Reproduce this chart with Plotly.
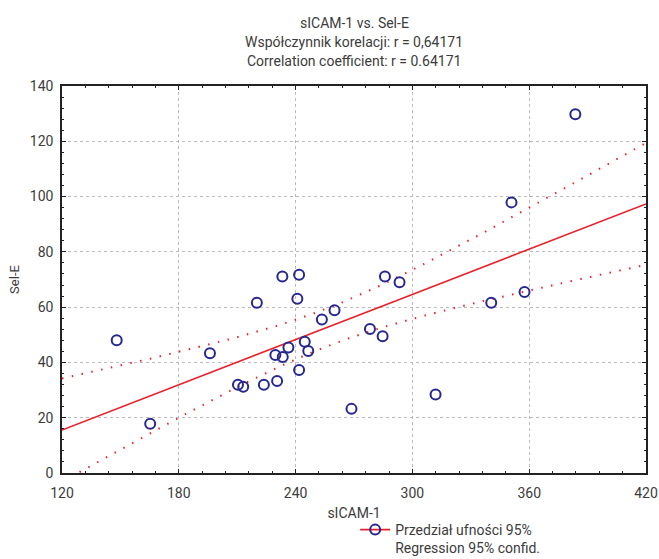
import numpy as np
import plotly.graph_objects as go

# Data
sicam = [148.1, 165.3, 196.0, 210.4, 213.1, 220.1, 223.7, 229.6, 230.5, 233.2,
         233.4, 236.3, 240.9, 241.8, 241.8, 244.7, 246.5, 253.5, 260.0, 268.7,
         285.9, 293.4, 278.2, 284.7, 311.9, 340.5, 357.6, 350.9, 383.7]
sele = [48.0, 17.8, 43.3, 31.9, 31.2, 61.6, 31.9, 42.7, 33.3, 71.1,
        42.0, 45.4, 63.0, 71.7, 37.3, 47.5, 44.1, 55.5, 58.9, 23.2,
        71.1, 69.0, 52.1, 49.5, 28.4, 61.6, 65.5, 97.9, 129.8]
x_ticks = [120, 180, 240, 300, 360, 420]
y_ticks = [0, 20, 40, 60, 80, 100, 120, 140]
title_lines = ["sICAM-1 vs. Sel-E",
               "Współczynnik korelacji: r = 0,64171",
               "Correlation coefficient: r = 0.64171"]
t_crit = 2.052  # t(0.975, df=27)

x = np.array(sicam)
y = np.array(sele)
n = len(x)
b, a = np.polyfit(x, y, 1)
resid = y - (a + b * x)
s = np.sqrt(np.sum(resid ** 2) / (n - 2))
xm = x.mean()
sxx = np.sum((x - xm) ** 2)
xg = np.linspace(x_ticks[0], x_ticks[-1], 301)
yg = a + b * xg
se = s * np.sqrt(1.0 / n + (xg - xm) ** 2 / sxx)
upper = yg + t_crit * se
lower = yg - t_crit * se

RED = "#e8202a"
BLUE = "#27278f"
FONT = "Roboto, Liberation Sans, sans-serif"
TXT = "#3c3c3c"

fig = go.Figure()
fig.add_trace(go.Scatter(x=xg, y=upper, mode="lines", showlegend=False,
                         line=dict(color=RED, width=2, dash="1.5px,8.5px")))
fig.add_trace(go.Scatter(x=xg, y=lower, mode="lines", showlegend=False,
                         line=dict(color=RED, width=2, dash="1.5px,8.5px")))
fig.add_trace(go.Scatter(x=xg, y=yg, mode="lines", showlegend=False,
                         line=dict(color=RED, width=1.6)))
fig.add_trace(go.Scatter(x=x, y=y, mode="markers", showlegend=False,
                         marker=dict(symbol="circle-open", size=10, color=BLUE,
                                     line=dict(width=2, color=BLUE))))
fig.add_trace(go.Scatter(x=[None], y=[None], mode="lines+markers",
                         name="Przedział ufności 95%<br>Regression 95% confid.",
                         line=dict(color=RED, width=1.6),
                         marker=dict(symbol="circle-open", size=10, color=BLUE,
                                     line=dict(width=2, color=BLUE))))

axis_common = dict(showline=True, linecolor="#222", linewidth=1.5, mirror="allticks",
                   ticks="inside", ticklen=4, tickcolor="#222",
                   showgrid=True, gridcolor="#bbbbbb", griddash="dot", gridwidth=1,
                   zeroline=False, ticklabeloverflow="allow",
                   tickfont=dict(size=14, color=TXT, family=FONT))

fig.update_xaxes(range=[120, 420], tickvals=x_ticks, ticklabelstandoff=6,
                 minor=dict(ticks="inside", ticklen=2, dtick=12, tick0=120,
                            tickcolor="#222", showgrid=False),
                 title=dict(text="sICAM-1", font=dict(size=14, color=TXT, family=FONT),
                            standoff=9),
                 **axis_common)
fig.update_yaxes(range=[0, 140], tickvals=y_ticks, ticklabelstandoff=4,
                 minor=dict(ticks="inside", ticklen=2, dtick=4, tick0=0,
                            tickcolor="#222", showgrid=False),
                 title=dict(text="Sel-E", font=dict(size=13, color=TXT, family=FONT),
                            standoff=7),
                 **axis_common)

for yy, txt in zip([1.1625, 1.113, 1.065], title_lines):
    fig.add_annotation(text=txt, x=0.5, xref="paper", y=yy, yref="paper",
                       xanchor="center", yanchor="middle", showarrow=False,
                       font=dict(size=14, color=TXT, family=FONT))

fig.update_layout(
    width=659, height=559,
    margin=dict(l=62, r=13, t=86, b=86, autoexpand=False),
    paper_bgcolor="white", plot_bgcolor="white",
    font=dict(family=FONT, color=TXT),
    legend=dict(x=0.502, y=-0.106, xanchor="left", yanchor="top", valign="top",
                bgcolor="rgba(0,0,0,0)", font=dict(size=14, color=TXT, family=FONT)),
)

fig.write_html("out.html", config={"displayModeBar": False},
               post_script="document.body.style.margin='0';document.body.style.overflow='hidden';")
